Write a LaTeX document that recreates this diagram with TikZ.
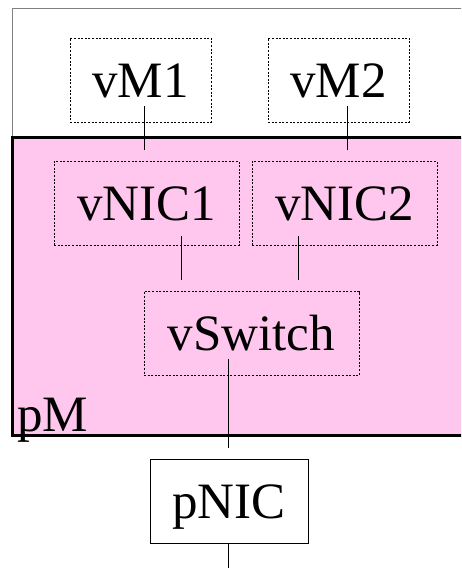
\documentclass[tikz,border=0pt]{standalone}
\usepackage{fontspec}
\setmainfont{Liberation Serif}
\definecolor{pmpink}{RGB}{255,199,238}

\begin{document}
\begin{tikzpicture}[
    x=1pt, y=-1pt,
    every node/.style={font=\fontsize{51}{60}\selectfont, text height=34pt, text depth=0pt, inner sep=0pt},
    vbox/.style={draw, line width=0.8pt, dash pattern=on 2pt off 1.6pt, minimum height=84pt},
    pbox/.style={draw, line width=0.9pt, minimum height=84pt},
    link/.style={line width=0.9pt}
]
\useasboundingbox (0,0) rectangle (461,568);
\clip (0,0) rectangle (461,568);
% host frame and physical machine
\draw[gray, line width=1pt] (12,137) -- (12,8) -- (470,8);
\fill[pmpink] (12,137) rectangle (470,435);
\draw[line width=3pt] (470,137) -- (12,137) -- (12,435) -- (470,435);
\node[anchor=base west] (pm) at (17,431) {pM};
% virtual machines
\node[vbox, minimum width=141pt] (vm1) at (140.5,80) {vM1};
\node[vbox, minimum width=141pt] (vm2) at (338.5,80) {vM2};
\node[vbox, minimum width=185pt] (vnic1) at (146.5,203) {vNIC1};
\node[vbox, minimum width=185pt] (vnic2) at (344.5,203) {vNIC2};
\node[vbox, minimum width=215pt] (vswitch) at (251.5,333.5) {vSwitch};
\node[pbox, minimum width=158pt] (pnic) at (229,501) {pNIC};
\coordinate (wire) at (228,568);
% links
\draw[link] ([xshift=3.5pt,yshift=16pt]vm1.south) -- ([xshift=-2.5pt,yshift=11pt]vnic1.north);
\draw[link] ([xshift=8.5pt,yshift=16pt]vm2.south) -- ([xshift=2.5pt,yshift=11pt]vnic2.north);
\draw[link] ([xshift=34.5pt,yshift=9pt]vnic1.south) -- ([xshift=-70.5pt,yshift=11pt]vswitch.north);
\draw[link] ([xshift=-46.5pt,yshift=9pt]vnic2.south) -- ([xshift=46.5pt,yshift=11pt]vswitch.north);
\draw[link] ([xshift=-23.5pt,yshift=17pt]vswitch.south) -- ([xshift=-1pt,yshift=11pt]pnic.north);
\draw[link] ([xshift=-1pt]pnic.south) -- (wire);
\end{tikzpicture}
\end{document}
